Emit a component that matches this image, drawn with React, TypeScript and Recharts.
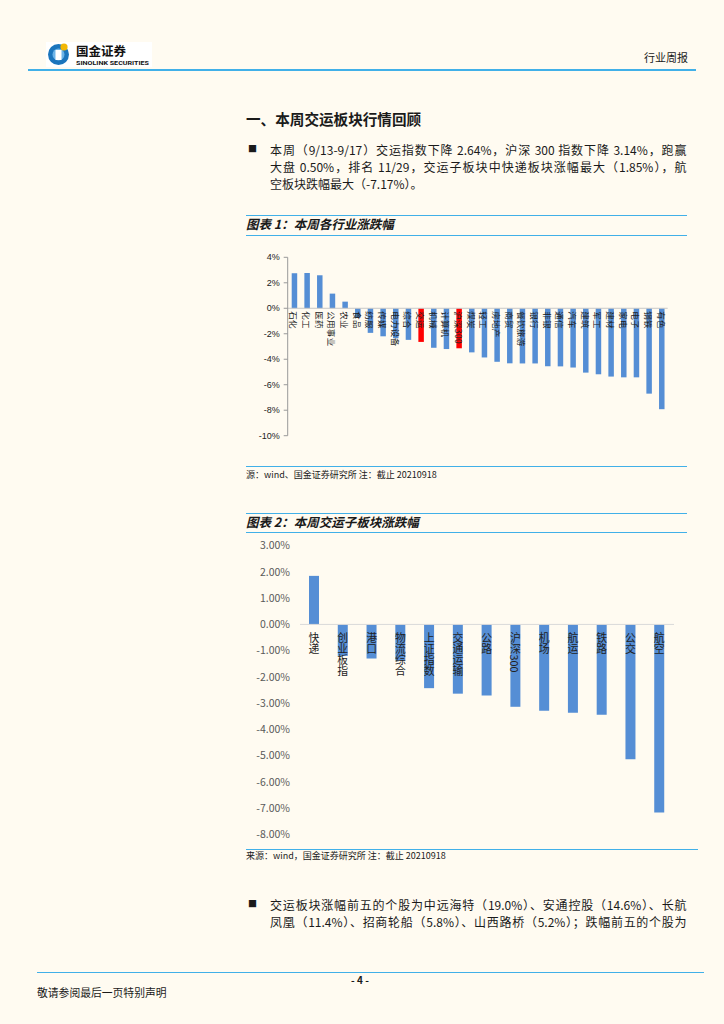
import React from 'react';
import { BarChart, Bar, XAxis, YAxis, Cell, LabelList, ReferenceLine } from 'recharts';

// 图表1：本周各行业涨跌幅 (%)
const industryNames = ['石化', '化工', '医药', '公用事业', '农业', '食品', '纺服', '传媒', '电力设备', '综合', '交运', '机械', '计算机', '沪深300', '煤炭', '轻工', '房地产', '商贸', '餐饮旅游', '银行', '非银', '通信', '汽车', '建筑', '军工', '建材', '家电', '电子', '钢铁', '有色'];
const industryChange = [2.75, 2.77, 2.59, 1.15, 0.52, -0.74, -1.93, -2.2, -2.35, -2.48, -2.64, -3.1, -3.2, -3.14, -3.46, -3.86, -4.2, -4.32, -4.33, -4.33, -4.55, -4.56, -4.65, -5.05, -5.18, -5.36, -5.42, -5.42, -6.7, -7.92];
const industryHighlight = ['交运', '沪深300'];
const industryTicks = [4, 2, 0, -2, -4, -6, -8, -10];

// 图表2：本周交运子板块涨跌幅 (%)
const subNames = ['快递', '创业板指', '港口', '物流综合', '上证指数', '交通运输', '公路', '沪深300', '机场', '航运', '铁路', '公交', '航空'];
const subChange = [1.85, -1.2, -1.3, -1.38, -2.43, -2.64, -2.71, -3.14, -3.29, -3.37, -3.44, -5.14, -7.17];
const subTicks = [3, 2, 1, 0, -1, -2, -3, -4, -5, -6, -7, -8];

const industryData = industryNames.map((name, i) => ({ name, value: industryChange[i] }));
const subData = subNames.map((name, i) => ({ name, value: subChange[i] }));

const BLUE = '#558ED5';
const LINE = '#41B0E8';
const CJK = '"Noto Sans CJK SC", "Noto Sans", sans-serif';

// edge of the bar that sits on the zero line
const zeroEdge = (y: number, h: number, v: number) => {
  const top = Math.min(y, y + h);
  const bottom = Math.max(y, y + h);
  return v >= 0 ? bottom : top;
};

const geom = (props: any) => {
  const vb = props.viewBox || props;
  return {
    x: Number(vb.x ?? props.x),
    y: Number(vb.y ?? props.y),
    w: Number(vb.width ?? props.width),
    h: Number(vb.height ?? props.height),
  };
};

const IndustryLabel = (props: any) => {
  const name = String(props.value);
  const i = industryNames.indexOf(name);
  const { x, y, w, h } = geom(props);
  const cx = x + w / 2;
  const zy = zeroEdge(y, h, industryChange[i]);
  return (
    <text transform={`translate(${cx},${zy + 3}) rotate(90)`} fontSize={8.5} fill="#222"
      fontFamily={CJK} dominantBaseline="central" textAnchor="start" letterSpacing={0.3}>
      {name}
    </text>
  );
};

// upright CJK characters stacked top to bottom, digits turned sideways
const SubLabel = (props: any) => {
  const name = String(props.value);
  const i = subNames.indexOf(name);
  const { x, y, w, h } = geom(props);
  const cx = x + w / 2;
  const zy = zeroEdge(y, h, subChange[i]);
  return (
    <text x={cx} y={zy + 8.5} fontSize={10.8} fill="#222" fontFamily={CJK}
      style={{ writingMode: 'vertical-rl' as any }} textAnchor="start">
      {name}
    </text>
  );
};

const Rule = ({ x1, x2, y, h = 1.5 }: { x1: number; x2: number; y: number; h?: number }) => (
  <div style={{ position: 'absolute', left: x1, top: y - h / 2, width: x2 - x1, height: h, background: LINE }} />
);

const T = ({ x, y, size, children, style }: { x: number; y: number; size: number; children: React.ReactNode; style?: React.CSSProperties }) => (
  <div style={{ position: 'absolute', left: x, top: y - size * 0.7, fontSize: size, lineHeight: `${size * 1.4}px`, fontFamily: CJK, color: '#1a1a1a', whiteSpace: 'nowrap', ...style }}>
    {children}
  </div>
);

const JLine = ({ y, children }: { y: number; children: React.ReactNode }) => (
  <div style={{ position: 'absolute', left: 270, top: y - 8.5, width: 416.5, fontSize: 12, lineHeight: '17px', fontFamily: CJK, color: '#1a1a1a', textAlign: 'justify', textAlignLast: 'justify' as any }}>
    {children}
  </div>
);

const Logo = () => (
  <svg style={{ position: 'absolute', left: 46, top: 42 }} width={106} height={25}>
    <rect x={0} y={0} width={106} height={25} fill="#ffffff" />
    <circle cx={12.5} cy={12.5} r={10.5} fill="#1B75BC" />
    <circle cx={12.5} cy={12.5} r={6} fill="#6CB4E8" />
    <rect x={9.5} y={8} width={6} height={10} fill="#ffffff" />
    <circle cx={18} cy={5} r={3.6} fill="#F2B705" />
    <text x={30} y={14} fontSize={12.5} fontWeight={700} fill="#111" fontFamily={CJK}>国金证券</text>
    <text x={30} y={23} fontSize={5.5} fontWeight={700} fill="#111" fontFamily="Roboto, sans-serif" textLength={73} lengthAdjust="spacingAndGlyphs">SINOLINK SECURITIES</text>
  </svg>
);

export default function App() {
  return (
    <div style={{ position: 'absolute', left: 0, top: 0, width: 724, height: 1024, background: '#FFFBF1', overflow: 'hidden' }}>
      <Logo />
      <T x={644} y={58} size={11}>行业周报</T>
      <Rule x1={28} x2={696} y={69.7} h={2} />

      <T x={246} y={119} size={14.6} style={{ fontWeight: 700 }}>一、本周交运板块行情回顾</T>

      <T x={248} y={149.5} size={9}>■</T>
      <JLine y={149.5}>本周（9/13-9/17）交运指数下降 2.64%，沪深 300 指数下降 3.14%，跑赢</JLine>
      <JLine y={166.5}>大盘 0.50%，排名 11/29，交运子板块中快递板块涨幅最大（1.85%），航</JLine>
      <div style={{ position: 'absolute', left: 270, top: 183.5 - 8.5, fontSize: 12, lineHeight: '17px', fontFamily: CJK, color: '#1a1a1a', whiteSpace: 'nowrap' }}>
        空板块跌幅最大（-7.17%）。
      </div>

      <Rule x1={246} x2={687} y={215.7} />
      <T x={246} y={223.5} size={12.5} style={{ fontWeight: 700, fontStyle: 'italic' }}>图表 1：本周各行业涨跌幅</T>
      <Rule x1={246} x2={687} y={235.5} />

      <div style={{ position: 'absolute', left: 240, top: 245 }}>
        <BarChart width={440} height={205} data={industryData} margin={{ top: 12.3, right: 12.3, bottom: 14.3, left: 0 }}>
          <XAxis dataKey="name" hide />
          <YAxis width={47.7} domain={[-10, 4]} ticks={industryTicks} interval={0}
            tickFormatter={(v: number) => `${v}%`}
            tick={{ fontSize: 9, fill: '#222', fontFamily: 'Liberation Sans, Arial, sans-serif' }}
            axisLine={{ stroke: '#999' }} tickLine={{ stroke: '#999' }} tickSize={4} tickMargin={4} />
          <ReferenceLine y={0} stroke="#c8c8c8" />
          <Bar dataKey="value" barSize={5.5} isAnimationActive={false}>
            {industryData.map((d) => (
              <Cell key={d.name} fill={industryHighlight.includes(d.name) ? '#FF0000' : BLUE} />
            ))}
            <LabelList dataKey="name" content={IndustryLabel} />
          </Bar>
        </BarChart>
      </div>

      <Rule x1={246} x2={687} y={466.7} />
      <T x={246} y={475.7} size={9}>源：wind、国金证券研究所 注：截止 20210918</T>

      <Rule x1={246} x2={687} y={513.3} />
      <T x={246} y={521.7} size={12.5} style={{ fontWeight: 700, fontStyle: 'italic' }}>图表 2：本周交运子板块涨跌幅</T>
      <Rule x1={246} x2={687} y={532.7} />

      <div style={{ position: 'absolute', left: 240, top: 535 }}>
        <BarChart width={445} height={310} data={subData} margin={{ top: 10.7, right: 11, bottom: 10.7, left: 0 }}>
          <XAxis dataKey="name" hide />
          <YAxis width={60} domain={[-8, 3]} ticks={subTicks} interval={0}
            tickFormatter={(v: number) => `${v.toFixed(2)}%`}
            tick={{ fontSize: 10.5, fill: '#595959', fontFamily: CJK }}
            axisLine={false} tickLine={false} tickSize={8} tickMargin={2} />
          <ReferenceLine y={0} stroke="#d9d9d9" />
          <Bar dataKey="value" fill={BLUE} barSize={10} isAnimationActive={false}>
            <LabelList dataKey="name" content={SubLabel} />
          </Bar>
        </BarChart>
      </div>

      <Rule x1={246} x2={698} y={849.3} />
      <T x={246} y={856.7} size={9}>来源：wind，国金证券研究所 注：截止 20210918</T>

      <T x={248} y={904} size={9}>■</T>
      <JLine y={904}>交运板块涨幅前五的个股为中远海特（19.0%）、安通控股（14.6%）、长航</JLine>
      <JLine y={921}>凤凰（11.4%）、招商轮船（5.8%）、山西路桥（5.2%）；跌幅前五的个股为</JLine>

      <Rule x1={37} x2={704} y={972.7} />
      <T x={351} y={980} size={10} style={{ fontWeight: 700 }}>- 4 -</T>
      <T x={37} y={992.7} size={10.8}>敬请参阅最后一页特别声明</T>
    </div>
  );
}
